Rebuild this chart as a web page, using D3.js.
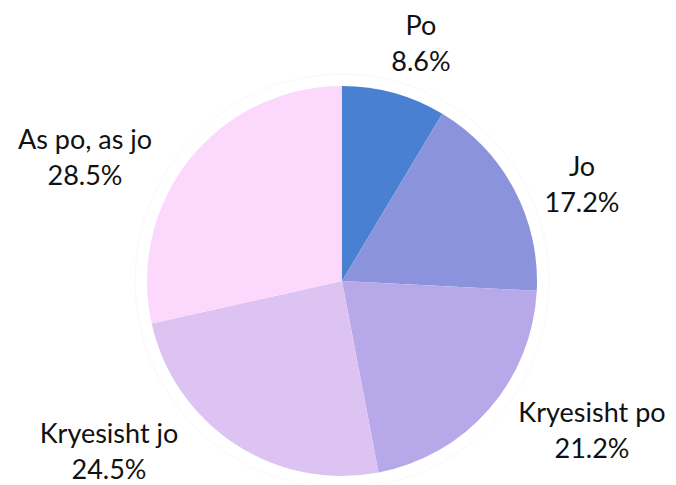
<!DOCTYPE html>
<html><head><meta charset="utf-8">
<script src="https://cdn.jsdelivr.net/npm/d3@7"></script>
<style>html,body{margin:0;padding:0;background:#fff;}svg{display:block;}</style>
</head><body>
<svg id="c" width="676" height="485"></svg>
<script>
const categories = ["Po", "Jo", "Kryesisht po", "Kryesisht jo", "As po, as jo"];
const values = [8.6, 17.2, 21.2, 24.5, 28.5];
const colors = ["#4a80d1", "#8a93dc", "#b7a8e9", "#dcc3f2", "#fcd9fc"];
const labelPos = [[421, 35], [582, 176], [592, 422], [109, 443], [85, 149]];

const svg = d3.select("#c");
const cx = 342, cy = 281, r = 195;
const g = svg.append("g").attr("transform", `translate(${cx},${cy})`);

g.append("circle").attr("r", r + 12).attr("fill", "none").attr("stroke", "#f8f8f8").attr("stroke-width", 1);

const pie = d3.pie().sort(null).value(d => d)(values);
const arc = d3.arc().innerRadius(0).outerRadius(r);
g.selectAll("path").data(pie).join("path")
  .attr("d", arc)
  .attr("fill", (d, i) => colors[i])
  .attr("stroke", "none");

const lab = svg.append("g").attr("font-family", "Lato, 'Open Sans', sans-serif")
  .attr("font-size", 27).attr("fill", "#111").attr("text-anchor", "middle");
categories.forEach((c, i) => {
  const t = lab.append("text").attr("x", labelPos[i][0]).attr("y", labelPos[i][1]);
  t.append("tspan").attr("x", labelPos[i][0]).text(c);
  t.append("tspan").attr("x", labelPos[i][0]).attr("dy", 36).text(d3.format(".1f")(values[i]) + "%");
});
</script>
</body></html>
